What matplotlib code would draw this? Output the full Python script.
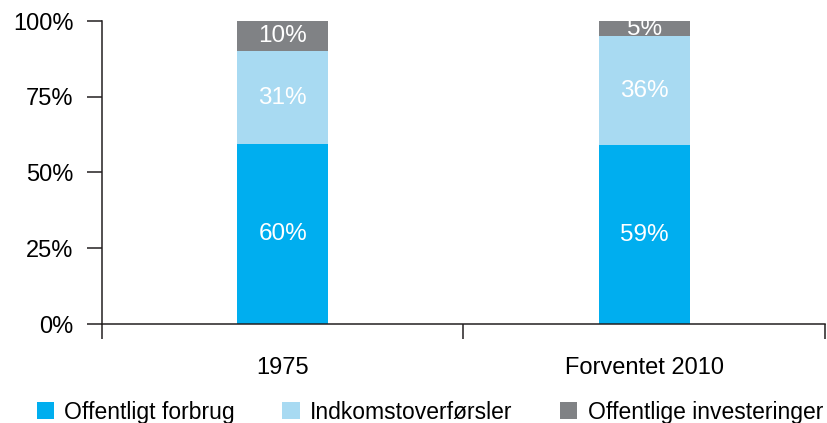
import matplotlib
matplotlib.use("Agg")
import matplotlib.pyplot as plt
from matplotlib.patches import Patch

plt.rcParams['font.family'] = ['Liberation Sans', 'DejaVu Sans']

categories = ["1975", "Forventet 2010"]
series_names = ["Offentligt forbrug", "Indkomstoverførsler", "Offentlige investeringer"]
forbrug = [60, 59]
overforsler = [31, 36]
investeringer = [10, 5]
colors = ["#00aeef", "#a8daf2", "#808285"]

# shares are printed rounded; scale each bar to 100 %
totals = [a + b + c for a, b, c in zip(forbrug, overforsler, investeringer)]
series = [forbrug, overforsler, investeringer]

fig = plt.figure(figsize=(8.28, 4.23), dpi=100)
ax = fig.add_axes([102 / 828, 1 - 324 / 423, 723 / 828, 303 / 423])

x = range(len(categories))
bottoms = [0.0] * len(categories)
for vals, col in zip(series, colors):
    heights = [v / t * 100 for v, t in zip(vals, totals)]
    ax.bar(x, heights, width=0.252, bottom=bottoms, color=col, zorder=2)
    for i, (h, b, v) in enumerate(zip(heights, bottoms, vals)):
        ax.text(i, b + h / 2, f"{v}%", ha="center", va="center",
                color="white", fontsize=17.5)
    bottoms = [b + h for b, h in zip(bottoms, heights)]

ax.set_xlim(-0.5, 1.5)
ax.set_ylim(0, 100)
ax.set_yticks([0, 25, 50, 75, 100])
ax.set_yticklabels(["0%", "25%", "50%", "75%", "100%"], fontsize=17)
ax.set_xticks(list(x))
ax.set_xticklabels(categories, fontsize=17)
ax.set_xticks([-0.5, 0.5, 1.5], minor=True)
ax.tick_params(axis="x", which="major", length=0, pad=24)
ax.tick_params(axis="x", which="minor", length=10.5, width=1.1, color="#231f20")
ax.tick_params(axis="y", length=10.5, width=1.1, color="#231f20", pad=10)
for s in ["top", "right"]:
    ax.spines[s].set_visible(False)
for s in ["left", "bottom"]:
    ax.spines[s].set_linewidth(1.1)
    ax.spines[s].set_color("#231f20")

handles = [Patch(facecolor=c) for c in colors]
fig.legend(handles, series_names, loc="lower left", bbox_to_anchor=(16 / 828, -0.05),
           ncol=3, frameon=False, fontsize=16.5, handlelength=0.75, handleheight=0.75,
           handletextpad=0.45, columnspacing=2.08)

fig.savefig("out.png", dpi=100)
